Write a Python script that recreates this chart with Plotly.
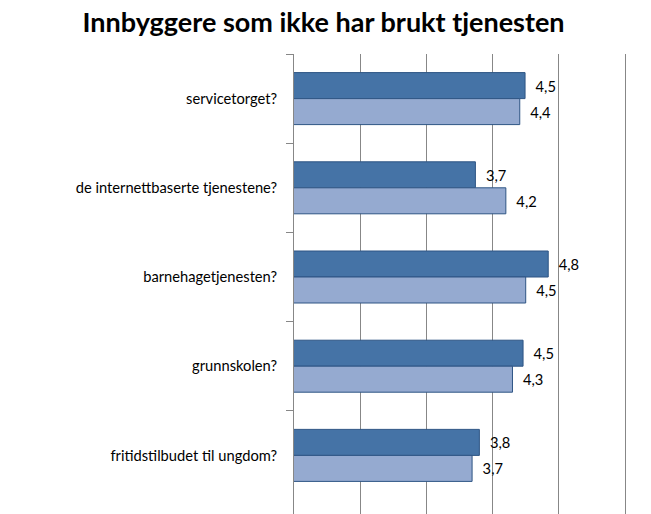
import plotly.graph_objects as go

categories = ["servicetorget?", "de internettbaserte tjenestene?", "barnehagetjenesten?",
              "grunnskolen?", "fritidstilbudet til ungdom?"]
series_a = [4.49, 3.74, 4.84, 4.46, 3.80]
series_b = [4.41, 4.20, 4.50, 4.30, 3.69]
title = "Innbyggere som ikke har brukt tjenesten"

label_font = dict(family="Lato", size=14.7, color="black")

fig = go.Figure()
fig.add_trace(go.Bar(
    y=categories, x=series_a, orientation="h",
    marker=dict(color="#4573A6", line=dict(color="#2E5584", width=1)),
    texttemplate="  %{x:.1f}", textposition="outside",
    textfont=label_font, cliponaxis=False, name="A", hoverinfo="skip",
))
fig.add_trace(go.Bar(
    y=categories, x=series_b, orientation="h",
    marker=dict(color="#95AAD0", line=dict(color="#2E5584", width=1)),
    texttemplate="  %{x:.1f}", textposition="outside",
    textfont=label_font, cliponaxis=False, name="B", hoverinfo="skip",
))

fig.update_layout(
    width=651, height=514,
    margin=dict(l=294, r=24, t=54, b=0, autoexpand=False),
    paper_bgcolor="white", plot_bgcolor="white",
    barmode="group", bargap=0.417, bargroupgap=0,
    showlegend=False, separators=", ",
    title=dict(text="<b>" + title + "</b>", x=0.497, xanchor="center",
               y=0.975, yanchor="top",
               font=dict(family="Lato", size=27, color="black")),
    font=dict(family="Lato", size=14.7, color="black"),
)
fig.update_xaxes(range=[1, 6.03], dtick=1, tick0=1, showgrid=True, gridcolor="#878787",
                 gridwidth=1, showticklabels=False, zeroline=False, showline=False,
                 ticks="", automargin=False)
fig.update_yaxes(range=[4.657, -0.5], showline=True, linecolor="#878787", linewidth=1,
                 ticks="outside", ticklen=7, tickcolor="#878787", tickson="boundaries",
                 ticklabelstandoff=13, showgrid=False, automargin=False,
                 tickfont=label_font)

fig.write_html("out.html", config={"displayModeBar": False},
               post_script="document.body.style.margin='0';")
